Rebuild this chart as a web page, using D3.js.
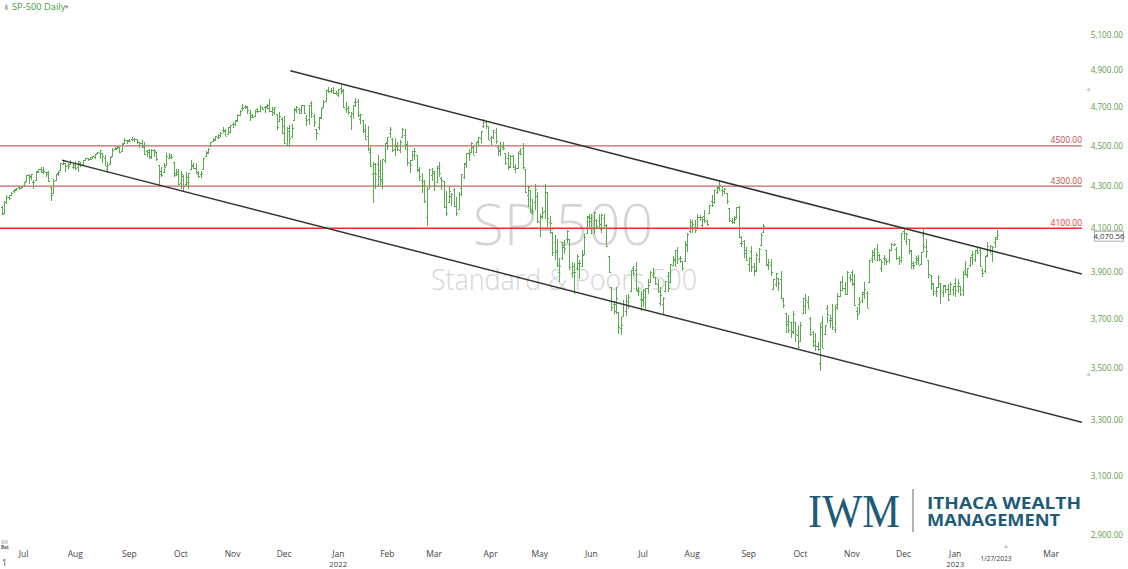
<!DOCTYPE html>
<html>
<head>
<meta charset="utf-8">
<script src="https://cdn.jsdelivr.net/npm/d3@7"></script>
<style>
  html, body { margin: 0; padding: 0; background: #fff; }
  svg { display: block; font-family: "Open Sans", "Noto Sans", sans-serif; }
</style>
</head>
<body>
<svg id="chart" width="1128" height="569"></svg>
<script>
// ---------- DATA: daily bars [day, open, high, low, close] ----------
const jun21 = [[18,4201,4204,4164,4166],[21,4173,4226,4173,4224],[22,4224,4256,4217,4246],[23,4249,4256,4237,4241],[24,4256,4271,4256,4266],[25,4274,4286,4267,4280],[28,4285,4292,4281,4291],[29,4294,4301,4284,4291],[30,4291,4302,4287,4297]];
const jul21 = [[1,4301,4321,4300,4320],[2,4327,4355,4324,4352],[6,4356,4357,4314,4344],[7,4351,4361,4330,4358],[8,4321,4331,4290,4320],[9,4329,4372,4329,4370],[12,4372,4386,4366,4385],[13,4382,4393,4368,4369],[14,4381,4393,4363,4374],[15,4369,4370,4345,4360],[16,4367,4376,4322,4327],[19,4296,4296,4233,4258],[20,4266,4336,4262,4323],[21,4331,4359,4328,4359],[22,4362,4373,4351,4368],[23,4381,4415,4381,4412],[26,4409,4422,4405,4422],[27,4416,4416,4372,4401],[28,4402,4416,4387,4401],[29,4411,4430,4411,4419],[30,4396,4413,4385,4395]];
const aug21 = [[2,4406,4423,4381,4387],[3,4392,4424,4373,4423],[4,4416,4417,4398,4403],[5,4408,4429,4404,4429],[6,4429,4441,4424,4437],[9,4437,4439,4424,4432],[10,4436,4445,4430,4436],[11,4442,4449,4436,4448],[12,4446,4461,4436,4460],[13,4464,4468,4461,4468],[16,4462,4480,4437,4480],[17,4462,4462,4418,4449],[18,4440,4454,4400,4400],[19,4383,4419,4367,4406],[20,4410,4444,4407,4442],[23,4450,4489,4450,4480],[24,4484,4492,4482,4486],[25,4490,4501,4485,4497],[26,4493,4496,4468,4470],[27,4474,4513,4469,4509],[30,4514,4538,4514,4529],[31,4529,4532,4513,4523]];
const sep21 = [[1,4528,4537,4523,4524],[2,4535,4546,4527,4537],[3,4533,4541,4521,4535],[7,4535,4535,4513,4521],[8,4518,4521,4494,4514],[9,4513,4529,4493,4493],[10,4506,4521,4458,4459],[13,4474,4479,4448,4469],[14,4479,4485,4435,4443],[15,4447,4486,4438,4481],[16,4477,4486,4447,4474],[17,4470,4471,4427,4433],[20,4402,4402,4305,4358],[21,4374,4394,4347,4354],[22,4368,4416,4367,4396],[23,4406,4465,4406,4449],[24,4439,4463,4435,4455],[27,4443,4457,4436,4443],[28,4419,4419,4346,4353],[29,4362,4386,4352,4360],[30,4371,4382,4306,4308]];
const oct21 = [[1,4317,4375,4289,4357],[4,4348,4356,4279,4300],[5,4310,4369,4304,4346],[6,4319,4365,4290,4364],[7,4384,4429,4384,4399],[8,4406,4412,4386,4391],[11,4390,4415,4360,4361],[12,4368,4375,4342,4351],[13,4358,4372,4340,4364],[14,4386,4439,4386,4438],[15,4448,4475,4448,4471],[18,4463,4488,4459,4486],[19,4497,4520,4496,4520],[20,4524,4541,4520,4537],[21,4532,4549,4528,4549],[22,4547,4559,4539,4545],[25,4553,4572,4547,4567],[26,4579,4599,4569,4575],[27,4580,4585,4551,4551],[28,4563,4597,4563,4597],[29,4573,4608,4567,4605]];
const nov21 = [[1,4611,4621,4595,4614],[2,4613,4635,4604,4631],[3,4630,4664,4623,4660],[4,4662,4684,4662,4680],[5,4699,4719,4681,4697],[8,4702,4714,4694,4702],[9,4707,4708,4670,4685],[10,4670,4685,4630,4647],[11,4659,4664,4648,4650],[12,4656,4688,4651,4683],[15,4689,4698,4672,4683],[16,4679,4714,4679,4701],[17,4701,4704,4688,4689],[18,4701,4708,4672,4704],[19,4708,4718,4693,4698],[22,4712,4744,4680,4683],[23,4679,4701,4659,4691],[24,4675,4703,4660,4702],[26,4664,4664,4585,4595],[29,4628,4673,4625,4655],[30,4640,4647,4565,4567]];
const dec21 = [[1,4602,4652,4511,4513],[2,4504,4596,4504,4577],[3,4590,4608,4496,4538],[6,4549,4613,4541,4592],[7,4632,4695,4632,4687],[8,4690,4705,4671,4701],[9,4691,4695,4665,4668],[10,4688,4713,4670,4712],[13,4711,4711,4666,4669],[14,4643,4660,4606,4634],[15,4637,4712,4612,4710],[16,4723,4732,4648,4669],[17,4653,4666,4600,4621],[20,4587,4587,4531,4568],[21,4595,4651,4584,4650],[22,4645,4697,4643,4697],[23,4704,4740,4703,4726],[27,4733,4791,4733,4791],[28,4795,4807,4780,4786],[29,4788,4805,4778,4793],[30,4795,4808,4775,4778],[31,4776,4787,4766,4766]];
const jan22 = [[3,4778,4796,4758,4797],[4,4804,4819,4775,4794],[5,4787,4798,4700,4701],[6,4693,4726,4671,4696],[7,4698,4708,4663,4677],[10,4656,4673,4582,4670],[11,4669,4714,4639,4713],[12,4728,4749,4703,4726],[13,4733,4745,4651,4660],[14,4638,4666,4615,4663],[18,4632,4632,4568,4577],[19,4588,4612,4533,4533],[20,4548,4603,4478,4483],[21,4471,4494,4395,4398],[24,4357,4418,4222,4410],[25,4366,4412,4288,4357],[26,4409,4453,4305,4350],[27,4381,4428,4309,4327],[28,4337,4433,4287,4432],[31,4431,4517,4414,4516]];
const feb22 = [[1,4519,4546,4484,4546],[2,4566,4595,4545,4589],[3,4536,4542,4471,4478],[4,4482,4540,4451,4501],[7,4505,4522,4477,4484],[8,4481,4531,4465,4521],[9,4547,4590,4547,4587],[10,4554,4588,4484,4504],[11,4507,4527,4401,4419],[14,4412,4427,4365,4402],[15,4430,4473,4429,4472],[16,4456,4490,4429,4475],[17,4456,4456,4372,4380],[18,4385,4395,4328,4349],[22,4332,4363,4267,4305],[23,4324,4329,4222,4226],[24,4155,4295,4115,4288],[25,4299,4386,4287,4385],[28,4355,4389,4328,4374]];
const mar22 = [[1,4364,4375,4280,4306],[2,4322,4401,4322,4387],[3,4401,4417,4345,4364],[4,4342,4343,4284,4329],[7,4327,4327,4199,4201],[8,4202,4277,4158,4171],[9,4224,4300,4224,4278],[10,4253,4268,4209,4260],[11,4280,4292,4202,4204],[14,4203,4247,4162,4173],[15,4188,4271,4187,4262],[16,4289,4358,4257,4358],[17,4345,4412,4335,4412],[18,4407,4466,4393,4463],[21,4462,4482,4424,4461],[22,4470,4522,4468,4512],[23,4494,4501,4456,4456],[24,4469,4521,4466,4520],[25,4523,4546,4501,4543],[28,4541,4575,4517,4575],[29,4603,4637,4594,4632],[30,4624,4627,4589,4602],[31,4600,4603,4530,4530]];
const apr22 = [[1,4540,4548,4507,4546],[4,4547,4583,4539,4583],[5,4572,4594,4514,4525],[6,4494,4504,4450,4481],[7,4474,4521,4450,4500],[8,4495,4521,4483,4488],[11,4462,4464,4408,4413],[12,4437,4471,4381,4397],[13,4394,4453,4392,4447],[14,4449,4453,4392,4392],[18,4385,4411,4367,4391],[19,4390,4471,4390,4463],[20,4473,4488,4455,4460],[21,4490,4513,4384,4394],[22,4385,4386,4268,4272],[25,4255,4299,4201,4297],[26,4279,4279,4172,4175],[27,4187,4240,4163,4183],[28,4223,4309,4188,4288],[29,4253,4270,4129,4132]];
const may22 = [[2,4131,4169,4063,4155],[3,4159,4200,4147,4175],[4,4181,4308,4147,4301],[5,4271,4271,4107,4147],[6,4129,4158,4077,4123],[9,4081,4081,3975,3991],[10,4035,4068,3958,4001],[11,3990,4049,3928,3935],[12,3904,3964,3859,3930],[13,3963,4038,3958,4024],[16,4013,4047,3983,4008],[17,4052,4090,4033,4089],[18,4051,4051,3912,3923],[19,3900,3946,3877,3901],[20,3927,3943,3810,3901],[23,3919,3981,3909,3974],[24,3942,3955,3875,3941],[25,3929,3999,3925,3979],[26,3985,4076,3985,4058],[27,4077,4158,4077,4158],[31,4151,4169,4110,4132]];
const jun22 = [[1,4149,4166,4074,4101],[2,4096,4177,4074,4176],[3,4137,4143,4098,4109],[6,4134,4169,4110,4121],[7,4097,4165,4080,4161],[8,4148,4165,4110,4116],[9,4102,4119,4018,4018],[10,3975,3975,3900,3901],[13,3838,3838,3735,3750],[14,3764,3778,3725,3735],[15,3765,3837,3722,3790],[16,3729,3729,3640,3667],[17,3665,3708,3637,3675],[21,3715,3780,3715,3765],[22,3733,3801,3717,3760],[23,3775,3809,3743,3796],[24,3821,3913,3821,3912],[27,3920,3927,3889,3900],[28,3913,3946,3820,3821],[29,3826,3836,3800,3819],[30,3785,3818,3738,3785]];
const jul22 = [[1,3782,3829,3752,3825],[5,3792,3832,3743,3831],[6,3831,3870,3809,3845],[7,3859,3906,3859,3903],[8,3889,3919,3878,3899],[11,3880,3880,3847,3855],[12,3851,3874,3813,3819],[13,3768,3839,3758,3802],[14,3764,3796,3721,3790],[15,3819,3864,3817,3863],[18,3883,3902,3819,3831],[19,3861,3939,3861,3937],[20,3935,3975,3930,3960],[21,3955,3999,3927,3999],[22,4000,4013,3939,3962],[25,3966,3975,3944,3967],[26,3953,3953,3910,3921],[27,3951,4040,3951,4024],[28,4026,4078,3992,4072],[29,4087,4141,4080,4130]];
const aug22 = [[1,4112,4140,4079,4119],[2,4105,4140,4080,4091],[3,4107,4168,4107,4155],[4,4154,4161,4135,4152],[5,4116,4152,4107,4145],[8,4156,4187,4128,4140],[9,4134,4137,4112,4122],[10,4171,4211,4167,4210],[11,4227,4257,4200,4208],[12,4225,4280,4217,4280],[15,4270,4301,4263,4297],[16,4290,4326,4278,4305],[17,4281,4302,4253,4275],[18,4274,4292,4262,4284],[19,4266,4266,4218,4228],[22,4195,4196,4131,4138],[23,4134,4149,4124,4128],[24,4127,4156,4120,4141],[25,4154,4200,4147,4199],[26,4199,4203,4057,4058],[29,4034,4063,4017,4031],[30,4041,4044,3966,3986],[31,4000,4015,3954,3955]];
const sep22 = [[1,3937,3970,3904,3967],[2,3995,4018,3906,3924],[6,3930,3942,3886,3908],[7,3910,3987,3906,3980],[8,3960,4011,3945,4006],[9,4023,4077,4023,4067],[12,4083,4120,4083,4110],[13,4000,4000,3930,3932],[14,3940,3962,3913,3946],[15,3932,3959,3889,3901],[16,3830,3873,3830,3873],[19,3849,3900,3838,3900],[20,3876,3876,3822,3856],[21,3871,3907,3789,3790],[22,3783,3790,3750,3758],[23,3727,3727,3647,3693],[26,3682,3716,3644,3655],[27,3687,3688,3624,3647],[28,3651,3736,3640,3720],[29,3688,3688,3610,3640],[30,3633,3672,3584,3586]];
const oct22 = [[3,3609,3688,3609,3678],[4,3726,3791,3726,3791],[5,3754,3807,3723,3783],[6,3771,3797,3745,3745],[7,3707,3710,3632,3640],[10,3647,3653,3588,3612],[11,3595,3641,3570,3589],[12,3591,3608,3573,3577],[13,3520,3685,3491,3669],[14,3690,3713,3584,3583],[17,3638,3677,3638,3677],[18,3746,3762,3686,3720],[19,3698,3719,3667,3695],[20,3705,3763,3658,3666],[21,3658,3758,3647,3752],[24,3764,3810,3741,3797],[25,3799,3862,3799,3860],[26,3825,3887,3824,3831],[27,3834,3860,3804,3807],[28,3808,3905,3808,3901],[31,3881,3893,3863,3872]];
const nov22 = [[1,3901,3912,3844,3856],[2,3852,3894,3759,3760],[3,3733,3751,3699,3720],[4,3766,3796,3722,3771],[7,3780,3814,3772,3807],[8,3817,3859,3786,3828],[9,3810,3818,3748,3749],[10,3859,3958,3859,3956],[11,3964,4002,3945,3993],[14,3977,4009,3956,3957],[15,4007,4028,3954,3992],[16,3977,3983,3955,3959],[17,3919,3954,3907,3947],[18,3966,3980,3935,3965],[21,3956,3962,3934,3950],[22,3956,4004,3946,4003],[23,4001,4034,3999,4028],[25,4024,4034,4020,4026],[28,4005,4013,3956,3964],[29,3965,3976,3937,3958],[30,3957,4080,3943,4080]];
const dec22 = [[1,4087,4101,4048,4077],[2,4041,4080,4026,4072],[5,4052,4052,3984,3999],[6,3996,4002,3919,3941],[7,3934,3951,3918,3933],[8,3947,3974,3935,3964],[9,3954,3977,3934,3934],[12,3940,3991,3937,3991],[13,4070,4101,3994,4019],[14,4015,4053,3965,3996],[15,3958,3958,3879,3896],[16,3890,3890,3828,3852],[19,3853,3855,3800,3818],[20,3810,3838,3795,3821],[21,3839,3889,3839,3879],[22,3853,3853,3765,3822],[23,3815,3845,3798,3845],[27,3843,3846,3813,3829],[28,3829,3848,3780,3783],[29,3805,3858,3805,3849],[30,3829,3840,3801,3840]];
const jan23 = [[3,3853,3878,3795,3825],[4,3840,3874,3815,3853],[5,3840,3840,3802,3808],[6,3823,3907,3802,3895],[9,3910,3951,3890,3893],[10,3889,3920,3878,3919],[11,3932,3970,3928,3970],[12,3977,3997,3937,3983],[13,3960,4003,3948,3999],[17,3999,4015,3984,3991],[18,4002,4015,3926,3929],[19,3912,3922,3885,3898],[20,3909,3973,3899,3973],[23,3978,4039,3972,4020],[24,4001,4024,3989,4017],[25,3982,4019,3950,4016],[26,4036,4061,4013,4060],[27,4053,4094,4049,4071]];

const monthLabels = ["Jun","Jul","Aug","Sep","Oct","Nov","Dec","Jan","Feb","Mar","Apr","May","Jun","Jul","Aug","Sep","Oct","Nov","Dec","Jan"];
const monthYears  = [2021,2021,2021,2021,2021,2021,2021,2022,2022,2022,2022,2022,2022,2022,2022,2022,2022,2022,2022,2023];
const monthBars   = [jun21,jul21,aug21,sep21,oct21,nov21,dec21,jan22,feb22,mar22,apr22,may22,jun22,jul22,aug22,sep22,oct22,nov22,dec22,jan23];

// future month shown on the axis: Mar 2023 starts 22 sessions after the last bar
const futureMonthLabels = ["Mar"];
const futureMonthSessionsAfterLast = [22];

const priceTicks = [2900,3100,3300,3500,3700,3900,4100,4300,4500,4700,4900,5100];
const levels = [4500, 4300, 4100];
const lastPrice = 4070.56;
const lastDateLabel = "1/27/2023";
// channel lines: [session index, price]
const upperTrend = [[117.5, 4898], [439.5, 3894]];
const lowerTrend = [[24.6, 4428], [439.5, 3294]];

// ---------- BUILD ----------
const bars = [];
const monthStarts = [];
monthBars.forEach((arr, m) => {
  monthStarts.push({ idx: bars.length, label: monthLabels[m], year: monthYears[m], partial: m === 0 });
  arr.forEach(r => bars.push({ m, day: r[0], o: r[1], h: r[2], l: r[3], c: r[4] }));
});
bars.forEach((b, i) => b.i = i);
const lastIdx = bars.length - 1;

const svg = d3.select("#chart");
const step = 2.458;
const x = d3.scaleLinear().domain([0, 440]).range([1.5, 1.5 + 440 * step]);
const y = d3.scaleLog().domain([2900, 5100]).range([535, 35]);

// watermark
svg.append("text").attr("x", 563).attr("y", 245).attr("text-anchor", "middle")
  .attr("font-size", 57).attr("fill", "#d5d5d5").style("font-weight", 300).text("SP-500");
svg.append("text").attr("x", 564).attr("y", 290).attr("text-anchor", "middle")
  .attr("font-size", 29).attr("fill", "#d5d5d5").style("font-weight", 300)
  .attr("textLength", 266).attr("lengthAdjust", "spacingAndGlyphs").text("Standard & Poors 500");

// horizontal levels
const levelColor = { 4500: "#c46464", 4300: "#c46464", 4100: "#ff2a2a" };
levels.forEach(v => {
  svg.append("line").attr("x1", 0).attr("x2", 1082).attr("y1", y(v)).attr("y2", y(v))
    .attr("stroke", levelColor[v]).attr("stroke-width", 1.4);
  svg.append("text").attr("x", 1082).attr("y", y(v) - 2.5).attr("text-anchor", "end")
    .attr("font-size", 8.5).attr("fill", v === 4100 ? "#e83030" : "#c04848").text(v.toFixed(2));
});

// OHLC bars
const barColor = "#58aa4e";
const g = svg.append("g").attr("stroke", barColor).attr("stroke-width", 1).attr("shape-rendering", "crispEdges");
bars.forEach(b => {
  const cx = Math.round(x(b.i)) + 0.5;
  g.append("line").attr("x1", cx).attr("x2", cx).attr("y1", y(b.h)).attr("y2", y(b.l) + 0.5);
  g.append("line").attr("x1", cx - 1.5).attr("x2", cx).attr("y1", Math.round(y(b.o)) + 0.5).attr("y2", Math.round(y(b.o)) + 0.5);
  g.append("line").attr("x1", cx).attr("x2", cx + 1.5).attr("y1", Math.round(y(b.c)) + 0.5).attr("y2", Math.round(y(b.c)) + 0.5);
});

// trend channel
[upperTrend, lowerTrend].forEach(t => {
  svg.append("line").attr("x1", x(t[0][0])).attr("y1", y(t[0][1]))
    .attr("x2", x(t[1][0])).attr("y2", y(t[1][1]))
    .attr("stroke", "#333").attr("stroke-width", 1.5);
});

// right price axis
const yAxis = svg.append("g");
priceTicks.forEach(v => {
  yAxis.append("text").attr("x", 1123).attr("y", y(v)).attr("dy", "0.35em").attr("text-anchor", "end")
    .attr("font-size", 8.2).attr("fill", "#649a4a").text(d3.format(",.2f")(v));
});
// last price box
svg.append("rect").attr("x", 1094.5).attr("y", y(lastPrice) - 3.5).attr("width", 29).attr("height", 10)
  .attr("fill", "#fff").attr("stroke", "#9a9a9a").attr("stroke-width", 0.8);
svg.append("text").attr("x", 1109).attr("y", y(lastPrice) + 1.6).attr("dy", "0.3em").attr("text-anchor", "middle")
  .attr("font-size", 7.8).attr("fill", "#333").text(d3.format(",.2f")(lastPrice));
// small markers
[[1088, 89], [1088, 374]].forEach(p => {
  svg.append("text").attr("x", p[0]).attr("y", p[1]).attr("dy", "0.35em").attr("text-anchor", "middle")
    .attr("font-size", 5).attr("fill", "#c8c8c8").text("◀");
});

// bottom time axis
const xAxis = svg.append("g");
const ticks = monthStarts.filter(d => !d.partial).map(d => ({ idx: d.idx, label: d.label, year: d.label === "Jan" ? d.year : null }));
futureMonthLabels.forEach((l, k) => ticks.push({ idx: lastIdx + futureMonthSessionsAfterLast[k], label: l, year: null }));
ticks.forEach(t => {
  xAxis.append("text").attr("x", x(t.idx)).attr("y", 556.5).attr("text-anchor", "middle")
    .attr("font-size", 8.5).attr("fill", "#444").text(t.label);
  if (t.year) xAxis.append("text").attr("x", x(t.idx)).attr("y", 566.5).attr("text-anchor", "middle")
    .attr("font-size", 7.8).attr("fill", "#444").text(t.year);
});
svg.append("text").attr("x", x(lastIdx) - 1).attr("y", 561).attr("text-anchor", "middle")
  .attr("font-size", 6.5).attr("fill", "#333").text(lastDateLabel);
svg.append("text").attr("x", x(lastIdx) + 9).attr("y", 548).attr("text-anchor", "middle")
  .attr("font-size", 6).attr("fill", "#c0c0c0").text("▲");
svg.append("text").attr("x", 2).attr("y", 566).attr("font-size", 8.5).attr("fill", "#444").text("1");
// small corner icon
svg.append("rect").attr("x", 1).attr("y", 540).attr("width", 7).attr("height", 4).attr("fill", "#d8d8d8");
svg.append("text").attr("x", 1).attr("y", 549).attr("font-size", 4.5).attr("fill", "#555").style("font-weight", 700).text("Bat");

// header
svg.append("text").attr("x", 3).attr("y", 9.5).attr("font-size", 8).attr("fill", "#999").text("⇟");
svg.append("text").attr("x", 12).attr("y", 9.5).attr("font-size", 9.3).attr("fill", "#3f9a3f").text("SP-500 Daily");
svg.append("text").attr("x", 64).attr("y", 8.5).attr("font-size", 5.5).attr("fill", "#888").text("▼");

// logo
const logoColor = "#1e5b78";
svg.append("text").attr("x", 808).attr("y", 527)
  .style("font-family", "'Liberation Serif', 'DejaVu Serif', serif")
  .attr("font-size", 46).attr("fill", logoColor).attr("textLength", 92).attr("lengthAdjust", "spacingAndGlyphs").text("IWM");
svg.append("line").attr("x1", 913).attr("x2", 913).attr("y1", 489).attr("y2", 532).attr("stroke", "#9a9a9a").attr("stroke-width", 1.5);
svg.append("text").attr("x", 927).attr("y", 509).attr("font-size", 16).style("font-weight", 700).attr("fill", logoColor)
  .attr("textLength", 154).attr("lengthAdjust", "spacingAndGlyphs").text("ITHACA WEALTH");
svg.append("text").attr("x", 927).attr("y", 526).attr("font-size", 16).style("font-weight", 700).attr("fill", logoColor)
  .attr("textLength", 133).attr("lengthAdjust", "spacingAndGlyphs").text("MANAGEMENT");
</script>
</body>
</html>
